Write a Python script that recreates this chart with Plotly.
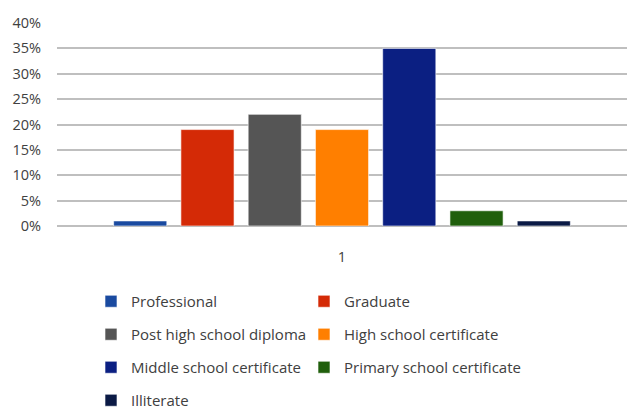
import plotly.graph_objects as go

categories = ["1"]
levels = [
    "Professional",
    "Graduate",
    "Post high school diploma",
    "High school certificate",
    "Middle school certificate",
    "Primary school certificate",
    "Illiterate",
]
shares = [0.01, 0.19, 0.22, 0.19, 0.35, 0.03, 0.01]
colors = ["#1A4AA0", "#D42A06", "#555555", "#FF7F00", "#0B1F82", "#205F0C", "#0B1A45"]

FONT = "Open Sans, sans-serif"
TEXT = "#404040"

fig = go.Figure()
for i, (name, val, col) in enumerate(zip(levels, shares, colors)):
    fig.add_trace(go.Bar(
        x=categories,
        y=[val],
        name=name,
        marker=dict(color=col, line=dict(color="rgba(255,255,255,0.6)", width=1)),
        legend="legend" if i % 2 == 0 else "legend2",
        legendgroup=name,
    ))

legend_common = dict(
    orientation="v",
    font=dict(family=FONT, size=15, color=TEXT),
    tracegroupgap=10.5,
    itemwidth=30,
    bgcolor="rgba(0,0,0,0)",
    yanchor="top",
    xanchor="left",
    yref="container",
    xref="container",
)

fig.update_layout(
    width=627,
    height=409,
    margin=dict(l=57, r=0, t=23, b=183, autoexpand=False),
    paper_bgcolor="white",
    plot_bgcolor="white",
    barmode="group",
    bargap=0.174,
    bargroupgap=0.21,
    font=dict(family=FONT, size=14.5, color=TEXT),
    legend=dict(legend_common, x=91 / 627, y=1 - 285 / 409),
    legend2=dict(legend_common, x=304 / 627, y=1 - 285 / 409),
    xaxis=dict(
        showgrid=False,
        showline=False,
        ticks="",
        ticklabelstandoff=20,
        tickfont=dict(family=FONT, size=14.5, color=TEXT),
    ),
    yaxis=dict(
        range=[0, 0.40],
        dtick=0.05,
        tickformat=".0%",
        showgrid=True,
        gridcolor="#BFBFBF",
        gridwidth=1.5,
        zeroline=True,
        zerolinecolor="#BFBFBF",
        zerolinewidth=1.5,
        showline=False,
        ticks="",
        ticklabelstandoff=15,
        tickfont=dict(family=FONT, size=14.5, color=TEXT),
    ),
)

fig.write_html("out.html")
